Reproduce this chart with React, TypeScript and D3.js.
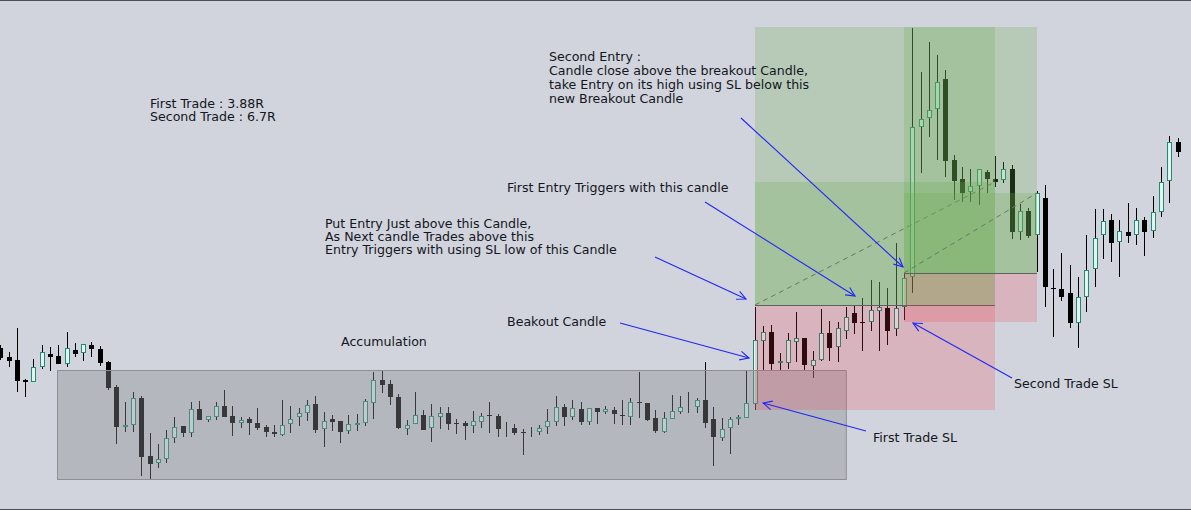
import React from "react";
import * as d3 from "d3";

// OHLC price series (price units, higher = up)
const opens = [152,143,140,120,118,133,146,144,136,150,147,155,151,138,113,73,75,102,44,37,41,62,74,67,91,80,83,94,84,77,81,77,73,68,65,76,83,87,96,71,81,79,69,75,77,97,120,116,103,71,76,85,72,83,87,77,77,74,78,85,84,71,72,68,67,68,73,78,93,83,91,78,92,88,90,85,83,98,97,82,68,81,88,92,93,100,81,62,72,81,82,96,159,168,137,137,158,162,134,140,167,153,169,187,178,178,189,192,171,193,223,373,382,391,421,340,321,308,314,328,321,320,331,268,289,265,302,212,211,207,177,203,231,265,280,258,268,265,280,269,288,319,358];
const highs = [155,148,172,121,141,155,153,155,168,157,156,158,154,139,115,98,108,104,67,56,70,83,74,98,99,84,98,110,94,83,83,92,75,75,100,94,92,100,104,88,85,79,85,86,101,128,130,120,106,80,108,90,96,93,93,81,79,89,87,98,86,78,76,71,73,75,91,104,96,100,98,92,92,94,93,100,102,128,97,90,88,105,104,108,102,138,93,82,83,85,130,193,174,175,147,167,188,162,149,191,179,178,193,195,202,220,218,212,257,227,472,428,458,445,430,345,333,331,331,330,344,338,335,296,292,309,315,231,247,235,223,265,291,291,286,280,297,292,283,304,333,364,362];
const lows = [140,133,108,103,118,131,129,136,133,143,139,143,134,110,56,68,68,24,21,32,37,57,63,63,80,78,80,83,64,72,65,70,63,63,64,67,74,79,67,53,69,57,66,69,74,81,107,95,71,65,76,70,58,71,70,66,60,67,72,67,63,63,65,45,63,65,66,74,74,80,75,75,76,86,76,75,75,82,79,67,67,81,86,87,87,72,34,59,46,75,82,90,130,130,130,131,138,130,122,139,139,138,161,166,149,169,149,155,164,180,207,327,363,340,323,300,298,298,295,307,313,317,261,260,262,228,193,163,199,172,152,188,213,241,238,223,257,255,244,262,283,297,343];
const closes = [142,139,119,118,133,148,143,136,152,146,156,151,137,112,73,75,102,43,36,41,62,73,67,91,80,84,94,83,77,80,77,72,68,66,75,81,87,95,70,79,78,68,76,77,99,120,115,103,72,75,85,70,84,87,76,76,74,79,84,84,71,72,67,67,68,72,79,93,83,92,78,92,88,91,86,84,98,97,80,69,82,89,93,93,100,77,63,71,81,83,97,160,168,136,139,160,162,135,140,167,152,172,183,177,178,190,193,169,192,222,373,381,390,418,339,319,307,314,331,321,318,331,268,289,264,307,213,212,203,177,203,230,262,279,257,269,264,280,268,288,318,358,348];

// Annotated zones (candle index range, price levels)
const accumulation = { from: 6.9, to: 102.05, top: 130, bottom: 21 };
const tradeFrom = [91, 109];
const tradeTo = [120, 125];
const tradeEntry = [195, 227];
const tradeStop = [90, 178];
const tradeTarget = [473, 473];
const tradeLast = [318, 307];

const summaryLines = ["First Trade : 3.88R", "Second Trade : 6.7R"];
const secondEntryLines = [
  "Second Entry :",
  "Candle close above the breakout Candle,",
  "take Entry on its high using SL below this",
  "new Breakout Candle",
];
const putEntryLines = [
  "Put Entry Just above this Candle,",
  "As Next candle Trades above this",
  "Entry Triggers with using SL low of this Candle",
];

const W = 1191;
const H = 510;
const FONT = "'DejaVu Sans', Verdana, sans-serif";

function Arrow({ x1, y1, x2, y2 }: { x1: number; y1: number; x2: number; y2: number }) {
  const a = Math.atan2(y2 - y1, x2 - x1);
  const L = 10;
  const s = 0.45;
  const p1 = [x2 - L * Math.cos(a - s), y2 - L * Math.sin(a - s)];
  const p2 = [x2 - L * Math.cos(a + s), y2 - L * Math.sin(a + s)];
  return (
    <g stroke="#2226f5" strokeWidth={1.1} fill="none">
      <line x1={x1} y1={y1} x2={x2} y2={y2} />
      <polyline points={`${p1[0]},${p1[1]} ${x2},${y2} ${p2[0]},${p2[1]}`} />
    </g>
  );
}

export default function App() {
  const x = d3.scaleLinear().domain([0, 142]).range([0.3, 1177.5]);
  const y = d3.scaleLinear().domain([0, 500]).range([500, 0]);
  const idx = d3.range(opens.length);

  const green = "rgba(110,172,80,0.26)";
  const red = "rgba(242,54,69,0.2)";

  return (
    <div style={{ position: "fixed", left: 0, top: 0 }}>
      <svg width={W} height={H} style={{ display: "block" }} fontFamily={FONT}>
        <rect width={W} height={H} fill="#d1d4dc" />
        {/* candles */}
        {idx.map((i) => {
          const cx = Math.round(x(i));
          const o = opens[i], c = closes[i];
          const bull = c > o;
          const yt = Math.round(y(Math.max(o, c)));
          const yb = Math.round(y(Math.min(o, c)));
          const bh = Math.max(1, yb - yt);
          return (
            <g key={i}>
              <line x1={cx + 0.5} x2={cx + 0.5} y1={Math.round(y(highs[i]))} y2={Math.round(y(lows[i]))} stroke="#000" />
              {bull ? (
                <rect x={cx - 1.5} y={yt + 0.5} width={4} height={Math.max(0, bh - 1)} fill="#e3f4ef" stroke="#1f8a78" />
              ) : (
                <rect x={cx - 2} y={yt} width={5} height={bh} fill="#000" />
              )}
            </g>
          );
        })}
        {/* accumulation box */}
        <rect
          x={x(accumulation.from)}
          y={y(accumulation.top) + 0.5}
          width={x(accumulation.to) - x(accumulation.from)}
          height={y(accumulation.bottom) - y(accumulation.top)}
          fill="rgba(140,140,145,0.4)"
          stroke="#8e8f94"
        />
        {/* position tools */}
        {tradeFrom.map((f, k) => {
          const x0 = Math.round(x(f));
          const x1 = Math.round(x(tradeTo[k]));
          const yE = Math.round(y(tradeEntry[k]));
          const yS = Math.round(y(tradeStop[k]));
          const yT = Math.round(y(tradeTarget[k]));
          const yL = Math.round(y(tradeLast[k]));
          return (
            <g key={k}>
              <rect x={x0} y={yT} width={x1 - x0} height={yE - yT} fill={green} />
              <rect x={x0} y={yE} width={x1 - x0} height={yS - yE} fill={red} />
              <rect x={x0} y={yL} width={x1 - x0} height={yE - yL} fill={green} />
              <line x1={x0} x2={x1} y1={yE + 0.5} y2={yE + 0.5} stroke="#5d6060" />
              <line x1={x0} y1={yE} x2={x1} y2={yL} stroke="#6c776a" strokeDasharray="5,4" />
            </g>
          );
        })}
        {/* texts */}
        <g fontSize={12.6} fill="#131722">
          {summaryLines.map((t, i) => (
            <text key={t} x={150} y={108 + i * 13}>{t}</text>
          ))}
          {secondEntryLines.map((t, i) => (
            <text key={t} x={549} y={60.5 + i * 14}>{t}</text>
          ))}
          {putEntryLines.map((t, i) => (
            <text key={t} x={325} y={227.5 + i * 13.4}>{t}</text>
          ))}
          <text x={507} y={192}>First Entry Triggers with this candle</text>
          <text x={507} y={326}>Beakout Candle</text>
          <text x={341} y={346}>Accumulation</text>
          <text x={1014} y={388}>Second Trade SL</text>
          <text x={873} y={442}>First Trade SL</text>
        </g>
        {/* arrows */}
        <Arrow x1={741} y1={118} x2={903} y2={267} />
        <Arrow x1={705} y1={202} x2={855} y2={296} />
        <Arrow x1={655} y1={257} x2={746} y2={299} />
        <Arrow x1={620} y1={323} x2={749} y2={358} />
        <Arrow x1={1012} y1={378} x2={913} y2={323} />
        <Arrow x1={866} y1={431} x2={763} y2={403} />
        {/* frame */}
        <line x1={0} x2={W} y1={0.5} y2={0.5} stroke="#4b4e58" />
        <line x1={0} x2={W} y1={H - 0.5} y2={H - 0.5} stroke="#4b4e58" />
      </svg>
    </div>
  );
}
